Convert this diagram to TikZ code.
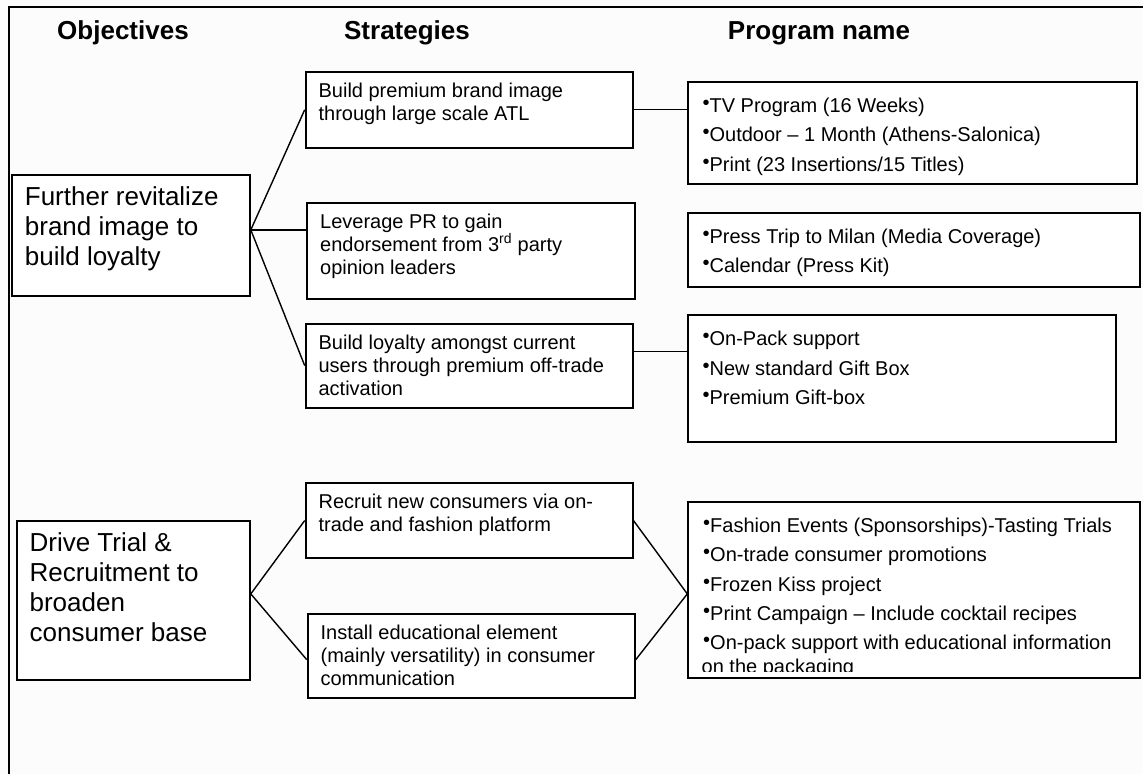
\documentclass[tikz,border=0pt]{standalone}
\usepackage{fontspec}
\setmainfont{Liberation Sans}
\usetikzlibrary{positioning,calc}

\newcommand{\cell}[3]{\parbox[c][#1][t]{#2}{\raggedright\rule{0pt}{\celltop}#3}}
\newcommand{\itm}{\raisebox{3pt}{•}}

\begin{document}
\begin{tikzpicture}[x=1pt, y=-1pt,
    frame/.style={line width=1.8pt},
    box/.style={draw, line width=1.8pt, fill=white, anchor=north west, inner ysep=0pt},
    objbox/.style={box, inner xsep=13pt, font=\fontsize{26}{29.8}\selectfont, execute at begin node={\def\celltop{31pt}}},
    stratbox/.style={box, inner xsep=13pt, font=\fontsize{20}{23}\selectfont, execute at begin node={\def\celltop{25.5pt}}},
    progbox/.style={box, inner xsep=15pt, font=\fontsize{20}{29.3}\selectfont, execute at begin node={\def\celltop{31pt}}},
    head/.style={anchor=base, font=\fontsize{26}{30}\selectfont\bfseries},
    link/.style={line width=1.4pt}
  ]
    \fill[black!1] (0,0) rectangle (1143,774);
    \useasboundingbox (0,0) rectangle (1143,774);
    \draw[frame] (1143,7) -- (9,7) -- (9,774);

    \node[head] (hobj) at (123,39) {Objectives};
    \node[head] (hstrat) at (407,39) {Strategies};
    \node[head] (hprog) at (819,39) {Program name};

    \node[objbox] (obj1) at (11,174) {\cell{121pt}{212pt}{Further revitalize\\brand image to\\build loyalty}};
    \node[objbox] (obj2) at (15.7,520) {\cell{159pt}{207.3pt}{Drive Trial \&\\Recruitment to\\broaden\\consumer base}};

    \node[stratbox] (s1) at (304.7,71) {\cell{75.7pt}{301pt}{Build premium brand image\\through large scale ATL}};
    \node[stratbox] (s2) at (306.3,201.7) {\cell{96pt}{301.7pt}{Leverage PR to gain\\endorsement from 3\textsuperscript{rd} party\\opinion leaders}};
    \node[stratbox] (s3) at (304.7,322.7) {\cell{84pt}{301pt}{Build loyalty amongst current\\users through premium off-trade\\activation}};
    \node[stratbox] (s4) at (304.7,482) {\cell{75.3pt}{301pt}{Recruit new consumers via on-\\trade and fashion platform}};
    \node[stratbox] (s5) at (306.7,612.7) {\cell{84pt}{301.3pt}{Install educational element\\(mainly versatility) in consumer\\communication}};

    \node[progbox] (p1) at (686.7,80.7) {\cell{102.6pt}{419pt}{\itm TV Program (16 Weeks)\\\itm Outdoor – 1 Month (Athens-Salonica)\\\itm Print (23 Insertions/15 Titles)}};
    \node[progbox] (p2) at (686.7,211.7) {\cell{74pt}{422.6pt}{\itm Press Trip to Milan (Media Coverage)\\\itm Calendar (Press Kit)}};
    \node[progbox] (p3) at (686.7,314) {\cell{127pt}{398.6pt}{\itm On-Pack support\\\itm New standard Gift Box\\\itm Premium Gift-box}};
    \node[progbox] (p4) at (687.3,500.7) {\cell{176.6pt}{422pt}{\itm Fashion Events (Sponsorships)-Tasting Trials\\\itm On-trade consumer promotions\\\itm Frozen Kiss project\\\itm Print Campaign – Include cocktail recipes\\\itm On-pack support with educational information}};
    \begin{scope}
      \clip (690,600) rectangle (1136,671);
      \node[anchor=base west, inner sep=0pt, font=\fontsize{20}{23}\selectfont] (p4more) at (701.5,673) {on the packaging};
    \end{scope}

    \draw[link] ([yshift=5.5pt]obj1.east) -- (s1.west);
    \draw[link] ([yshift=5.5pt]obj1.east) -- ([yshift=5.5pt]obj1.east -| s2.west);
    \draw[link] ([yshift=5.5pt]obj1.east) -- (s3.west);
    \draw[link] (s1.east) -- (s1.east -| p1.west);
    \draw[link] ([yshift=14pt]s3.east) -- ([yshift=14pt]s3.east -| p3.west);

    \draw[link] ([yshift=6.5pt]obj2.east) -- (s4.west);
    \draw[link] ([yshift=6.5pt]obj2.east) -- ([yshift=-4pt]s5.west);
    \draw[link] (s4.east) -- ([yshift=-4pt]p4.west);
    \draw[link] ([yshift=-4pt]s5.east) -- ([yshift=-4pt]p4.west);
\end{tikzpicture}
\end{document}
